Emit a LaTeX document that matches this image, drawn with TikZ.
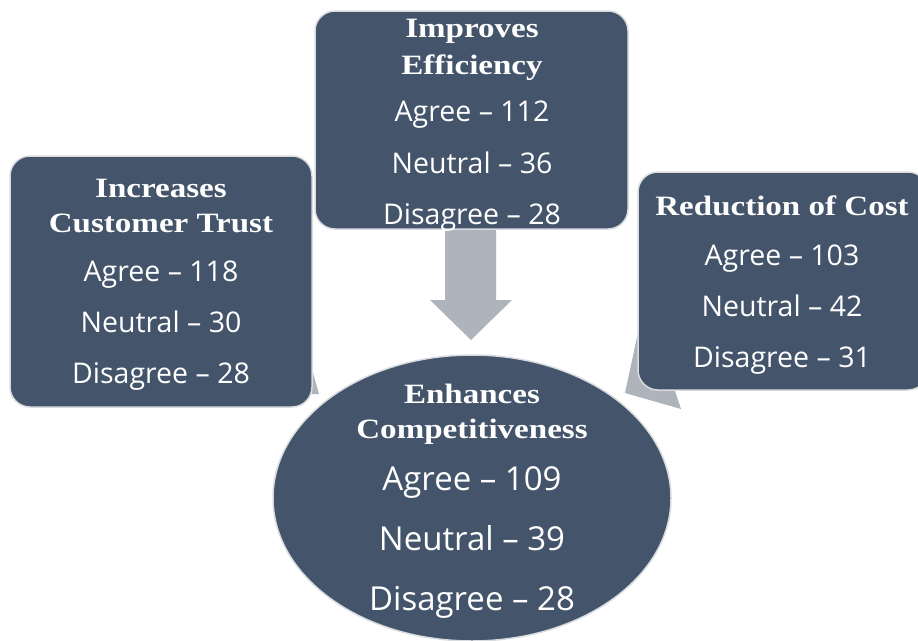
\documentclass[tikz,border=0pt]{standalone}
\usepackage{fontspec}
\setmainfont{Liberation Serif}
\newfontfamily\headfont[FakeStretch=1.18]{Liberation Serif}
\newfontfamily\bodyfont[Ligatures=TeX]{Open Sans}
\usetikzlibrary{shapes.geometric}
\definecolor{boxblue}{HTML}{44546A}
\definecolor{arrowgray}{HTML}{AFB3BB}
\definecolor{edgegray}{HTML}{D9DBDF}
\begin{document}
\begin{tikzpicture}[x=1pt,y=-1pt,
  card/.style={draw=edgegray, line width=1.5pt, fill=boxblue, rounded corners=20pt, inner sep=0pt},
  oval/.style={ellipse, draw=edgegray, line width=1.5pt, fill=boxblue, inner sep=0pt},
  head/.style={text=white, font=\headfont\bfseries\fontsize{28}{34}\selectfont, inner sep=0pt, anchor=base},
  stat/.style={text=white, font=\bodyfont\fontsize{28.5}{32}\selectfont, inner sep=0pt, anchor=base},
  bigstat/.style={text=white, font=\bodyfont\fontsize{33}{36}\selectfont, inner sep=0pt, anchor=base},
  arrowfill/.style={fill=arrowgray, draw=none}]
\useasboundingbox (0,0) rectangle (918,640);
\begin{scope}
\clip (0,0) rectangle (918,640);
% arrows (behind the boxes)
\fill[arrowfill] (445,200) -- (496,200) -- (496,300) -- (512,300) -- (471,340) -- (430,300) -- (445,300) -- cycle;
\fill[arrowfill] (305,345) -- (319,394) -- (298,394) -- cycle;
\fill[arrowfill] (625,393) -- (681,409) -- (645,300) -- cycle;
% boxes
\node[card, minimum width=302pt, minimum height=251pt] (trust) at (161,281.5) {};
\node[card, minimum width=313pt, minimum height=218pt] (eff) at (471.5,120) {};
\node[card, minimum width=290pt, minimum height=218pt] (cost) at (783,281) {};
\node[oval, minimum width=398pt, minimum height=286pt] (comp) at (472,498) {};
% texts
\node[head] (t1) at (161,197) {Increases};
\node[head] (t2) at (161,232) {Customer Trust};
\node[stat] (t3) at (161,281) {Agree -- 118};
\node[stat] (t4) at (161,332) {Neutral -- 30};
\node[stat] (t5) at (161,383) {Disagree -- 28};
\node[head] (e1) at (472,37) {Improves};
\node[head] (e2) at (472,74) {Efficiency};
\node[stat] (e3) at (472,121) {Agree -- 112};
\node[stat] (e4) at (472,173) {Neutral -- 36};
\node[stat] (e5) at (472,224) {Disagree -- 28};
\node[head] (c1) at (782,215) {Reduction of Cost};
\node[stat] (c2) at (782,265) {Agree -- 103};
\node[stat] (c3) at (782,316) {Neutral -- 42};
\node[stat] (c4) at (782,367) {Disagree -- 31};
\node[head] (m1) at (472,403) {Enhances};
\node[head] (m2) at (472,438) {Competitiveness};
\node[bigstat] (m3) at (472,490) {Agree -- 109};
\node[bigstat] (m4) at (472,550) {Neutral -- 39};
\node[bigstat] (m5) at (472,610) {Disagree -- 28};
\end{scope}
\end{tikzpicture}
\end{document}
